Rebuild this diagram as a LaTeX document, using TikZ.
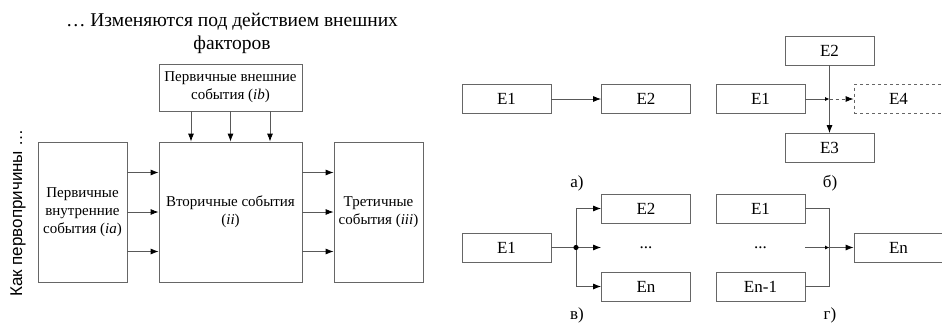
\documentclass[tikz,border=0pt]{standalone}
\usepackage{fontspec}
\setmainfont{Liberation Serif}
\newfontfamily\serifnt{Liberation Serif}
\newfontfamily\sansfnt{Liberation Sans}
\usetikzlibrary{arrows.meta,calc}
\tikzset{
  bx/.style={draw=black!60, line width=0.8pt, inner sep=0pt, align=center},
  bigbox/.style={bx, font=\serifnt\fontsize{15}{18}\selectfont},
  ebox/.style={bx, minimum width=89pt, minimum height=29pt, font=\serifnt\fontsize{17}{20}\selectfont},
  ln/.style={draw=black!65, line width=0.8pt},
  arr/.style={ln, -{Latex[length=8pt,width=6pt,color=black]}},
  smarr/.style={ln, -{Latex[length=4.5pt,width=4pt,color=black]}},
  lbl/.style={font=\serifnt\fontsize{17}{20}\selectfont},
}
\begin{document}
\begin{tikzpicture}[x=1pt,y=-1pt]
\useasboundingbox (0,0) rectangle (942,330);
\clip (0,0) rectangle (942,330);
% left diagram
\node[font=\serifnt\fontsize{19.5}{23}\selectfont, align=center] (title) at (232,33) {… Изменяются под действием внешних\\факторов};
\node[font=\sansfnt\fontsize{17}{20}\selectfont, rotate=90] (side) at (18,213) {Как первопричины …};
\node[bigbox, minimum width=143pt, minimum height=47pt] (ib) at (230.5,87.5) {Первичные внешние\\события (\textit{ib})};
\node[bigbox, minimum width=89pt, minimum height=140pt] (ia) at (82.5,212) {Первичные\\внутренние\\события (\textit{ia})};
\node[bigbox, minimum width=143pt, minimum height=140pt] (ii) at (230.5,212) {Вторичные события\\(\textit{ii})};
\node[bigbox, minimum width=89pt, minimum height=140pt] (iii) at (378.5,212) {Третичные\\события (\textit{iii})};
\foreach \s in {-39.5,0,39.5}{
  \draw[arr] ([xshift=\s pt]ib.south) -- ([xshift=\s pt]ii.north);
  \draw[arr] ([yshift=\s pt]ia.east) -- ([yshift=\s pt]ii.west);
  \draw[arr] ([yshift=\s pt]ii.east) -- ([yshift=\s pt]iii.west);
}
% a)
\node[ebox] (a1) at (506.5,99) {E1};
\node[ebox] (a2) at (646,99) {E2};
\draw[arr] (a1) -- (a2);
\node[lbl] (la) at (577,183) {а)};
% b)
\node[ebox] (b2) at (829.5,50.5) {E2};
\node[ebox] (b1) at (760.5,99) {E1};
\node[ebox, dashed] (b4) at (898.5,99) {E4};
\node[ebox] (b3) at (829.5,148) {E3};
\coordinate (bj) at (b2.south |- b1.east);
\draw[arr] (b2) -- (b3);
\draw[smarr] (b1) -- (bj);
\draw[arr, dashed] (bj) -- (b4);
\node[lbl] (lb) at (830,183) {б)};
% v)
\node[ebox] (c1) at (506.5,247.5) {E1};
\node[ebox] (c2) at (646,208.5) {E2};
\node[ebox, draw=none] (cd) at (646,247.5) {...};
\node[ebox] (cn) at (646,286.5) {En};
\coordinate (cj) at (576,247.5);
\draw[ln] (c1) -- (cj);
\draw[arr] (cj) |- (c2.west);
\draw[arr] (cj) |- (cn.west);
\draw[arr] (cj) -- (cd.west);
\fill (cj) circle (2.6pt);
\node[lbl] (lc) at (577,315) {в)};
% g)
\node[ebox] (d1) at (760.5,208.5) {E1};
\node[ebox, draw=none] (dd) at (760.5,247.5) {...};
\node[ebox] (dm) at (760.5,286.5) {En-1};
\node[ebox] (dn) at (898.5,247.5) {En};
\coordinate (dj) at (829.5,247.5);
\draw[ln] (d1.east) -| (dj);
\draw[ln] (dm.east) -| (dj);
\draw[smarr] (dd.east) -- (dj);
\draw[arr] (dj) -- (dn.west);
\node[lbl] (ld) at (830,315) {г)};
\end{tikzpicture}
\end{document}
